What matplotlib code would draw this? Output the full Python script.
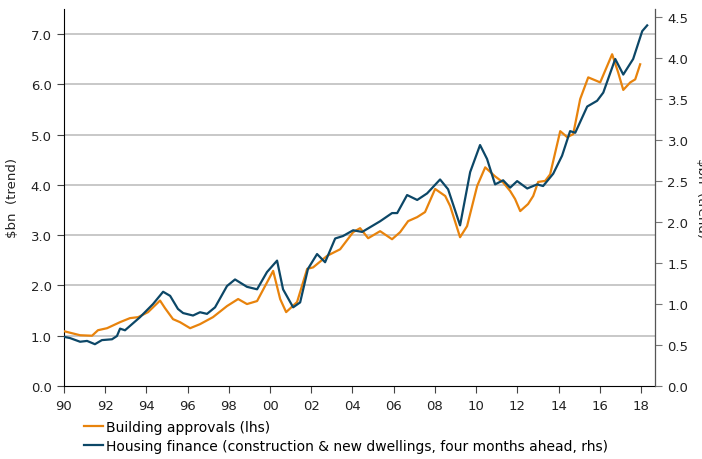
import matplotlib
matplotlib.use("Agg")
import matplotlib.pyplot as plt
from matplotlib.ticker import MultipleLocator, FormatStrFormatter

# Building approvals, $bn trend (left axis)
approvals_year = [1990.0, 1990.78, 1991.36, 1991.65, 1992.09, 1992.72, 1993.2, 1993.6,
                  1994.08, 1994.66, 1994.9, 1995.29, 1995.63, 1996.12, 1996.6, 1997.23,
                  1997.91, 1998.45, 1998.88, 1999.37, 2000.15, 2000.49, 2000.78, 2001.31,
                  2001.8, 2002.09, 2002.77, 2003.4, 2004.03, 2004.37, 2004.76, 2005.34,
                  2005.92, 2006.31, 2006.7, 2007.14, 2007.52, 2008.01, 2008.5, 2008.74,
                  2009.22, 2009.56, 2010.05, 2010.44, 2010.92, 2011.31, 2011.65, 2011.89,
                  2012.14, 2012.52, 2012.77, 2013.01, 2013.35, 2013.59, 2014.08, 2014.42,
                  2014.71, 2015.05, 2015.44, 2016.02, 2016.6, 2016.89, 2017.14, 2017.48,
                  2017.72, 2017.96]
approvals = [1.09, 1.01, 1.00, 1.11, 1.15, 1.27, 1.35, 1.37,
             1.47, 1.70, 1.55, 1.33, 1.27, 1.15, 1.23, 1.37,
             1.59, 1.73, 1.63, 1.69, 2.29, 1.73, 1.47, 1.67,
             2.33, 2.36, 2.59, 2.72, 3.06, 3.14, 2.94, 3.08,
             2.92, 3.06, 3.28, 3.36, 3.46, 3.92, 3.78, 3.58,
             2.96, 3.18, 3.98, 4.35, 4.17, 4.05, 3.88, 3.72,
             3.48, 3.62, 3.78, 4.06, 4.08, 4.21, 5.07, 4.95,
             5.01, 5.71, 6.14, 6.04, 6.60, 6.24, 5.89, 6.04,
             6.10, 6.40]

# Housing finance, construction & new dwellings, four months ahead (right axis)
finance_year = [1990.0, 1990.29, 1990.78, 1991.12, 1991.5, 1991.84, 1992.33, 1992.57,
                1992.72, 1992.96, 1993.69, 1994.32, 1994.81, 1995.15, 1995.53, 1995.78,
                1996.26, 1996.6, 1996.94, 1997.33, 1997.91, 1998.3, 1998.88, 1999.37,
                1999.85, 2000.34, 2000.63, 2001.12, 2001.46, 2001.84, 2002.28, 2002.67,
                2003.16, 2003.54, 2004.03, 2004.47, 2005.34, 2005.92, 2006.17, 2006.65,
                2007.14, 2007.62, 2008.25, 2008.64, 2009.22, 2009.71, 2010.19, 2010.53,
                2010.92, 2011.31, 2011.65, 2011.99, 2012.48, 2012.96, 2013.25, 2013.74,
                2014.17, 2014.56, 2014.81, 2015.39, 2015.87, 2016.17, 2016.75, 2017.14,
                2017.62, 2018.06, 2018.3]
finance = [0.60, 0.585, 0.54, 0.55, 0.51, 0.56, 0.57, 0.61,
           0.70, 0.68, 0.84, 1.00, 1.15, 1.10, 0.94, 0.89,
           0.86, 0.90, 0.88, 0.96, 1.22, 1.30, 1.21, 1.18,
           1.39, 1.53, 1.18, 0.96, 1.02, 1.43, 1.61, 1.51,
           1.80, 1.83, 1.90, 1.88, 2.01, 2.11, 2.11, 2.33,
           2.27, 2.35, 2.52, 2.40, 1.96, 2.61, 2.94, 2.77,
           2.46, 2.51, 2.42, 2.50, 2.41, 2.46, 2.44, 2.59,
           2.81, 3.11, 3.09, 3.41, 3.48, 3.58, 3.99, 3.80,
           3.99, 4.33, 4.40]

year_ticks = list(range(1990, 2019, 2))
year_labels = [f"{y % 100:02d}" for y in year_ticks]

ORANGE = "#E8830C"
NAVY = "#0C4767"
GRID = "#C4C4C4"
TEXT = "#222222"

plt.rcParams["font.family"] = ["DejaVu Sans"]
plt.rcParams["font.size"] = 9.5

fig = plt.figure(figsize=(7.02, 4.60), dpi=100)
ax = fig.add_axes([64 / 702, 1 - 387 / 460, (655 - 64) / 702, (387 - 10) / 460])
ax2 = ax.twinx()

la, = ax.plot(approvals_year, approvals, color=ORANGE, lw=1.6, zorder=3,
              solid_joinstyle="round", label="Building approvals (lhs)")
lb, = ax2.plot(finance_year, finance, color=NAVY, lw=1.6, zorder=3,
               solid_joinstyle="round",
               label="Housing finance (construction & new dwellings, four months ahead, rhs)")

ax.set_xlim(1990, 2018.68)
ax.set_ylim(0, 7.5)
ax2.set_ylim(0, 4.6)

ax.yaxis.set_major_locator(MultipleLocator(1.0))
ax.yaxis.set_major_formatter(FormatStrFormatter("%.1f"))
ax2.yaxis.set_major_locator(MultipleLocator(0.5))
ax2.yaxis.set_major_formatter(FormatStrFormatter("%.1f"))
ax.set_xticks(year_ticks)
ax.set_xticklabels(year_labels)

for y in range(1, 8):
    ax.axhline(y, color=GRID, lw=1.3, zorder=1)

ax.spines["top"].set_visible(False)
ax2.spines["top"].set_visible(False)
ax.spines["left"].set_color("black")
ax.spines["bottom"].set_color("black")
ax2.spines["right"].set_color("#555555")
ax2.spines["left"].set_visible(False)
ax2.spines["bottom"].set_visible(False)

ax.tick_params(axis="y", direction="out", length=5, color="#444444", labelcolor=TEXT, pad=4)
ax.tick_params(axis="x", direction="out", length=5, color="#444444", labelcolor=TEXT, pad=4)
ax2.tick_params(axis="y", direction="out", length=5, color="#777777", labelcolor=TEXT, pad=4)

ax.set_ylabel("$bn  (trend)", color=TEXT, labelpad=8)
ax2.set_ylabel("$bn  (trend)", color=TEXT, rotation=270, labelpad=14)

fig.legend(handles=[la, lb], loc="upper left", bbox_to_anchor=(84 / 702, 1 - 421 / 460),
           frameon=False, handlelength=1.4, handletextpad=0.2, labelspacing=0.35,
           borderaxespad=0, borderpad=0, fontsize=10)

fig.savefig("out.png", dpi=100)
